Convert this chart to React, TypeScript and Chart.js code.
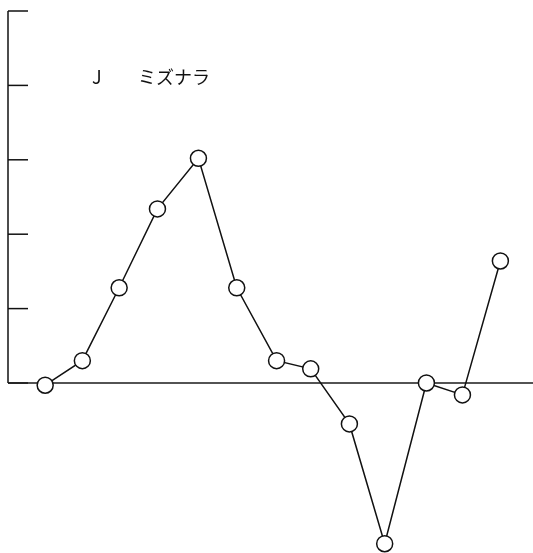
import React, { useEffect, useRef } from "react";
import { Chart, registerables } from "chart.js";

Chart.register(...registerables);

const xPositions = [0, 0.98, 1.95, 2.96, 4.04, 5.05, 6.1, 7.0, 8.02, 8.95, 10.05, 11.0, 12.0];
const values = [-0.03, 0.3, 1.28, 2.34, 3.02, 1.28, 0.3, 0.19, -0.55, -2.16, 0.0, -0.16, 1.64];
const yTicks = [0, 1, 2, 3, 4, 5];
const labelCode = "J";
const labelName = "ミズナラ";

const axisPlugin = {
  id: "scanAxis",
  beforeDatasetsDraw(chart: any) {
    const { ctx, chartArea, scales } = chart;
    const y = scales.y;
    const left = chartArea.left;
    ctx.save();
    ctx.strokeStyle = "#111";
    ctx.lineWidth = 1.5;
    ctx.beginPath();
    ctx.moveTo(left, y.getPixelForValue(yTicks[0]));
    ctx.lineTo(left, y.getPixelForValue(yTicks[yTicks.length - 1]));
    ctx.stroke();
    yTicks.forEach((t) => {
      const py = y.getPixelForValue(t);
      ctx.beginPath();
      ctx.moveTo(left, py);
      ctx.lineTo(left + 20, py);
      ctx.stroke();
    });
    ctx.lineWidth = 1.5;
    ctx.strokeStyle = "#1a1a1a";
    const zy = y.getPixelForValue(0);
    ctx.beginPath();
    ctx.moveTo(left, zy);
    ctx.lineTo(chartArea.right, zy);
    ctx.stroke();
    ctx.fillStyle = "#111";
    ctx.font = "18px 'Noto Sans CJK JP', 'Noto Sans', sans-serif";
    ctx.textBaseline = "middle";
    const ly = y.getPixelForValue(4.11);
    ctx.fillText(labelCode, left + 84, ly);
    ctx.fillText(labelName, left + 130, ly);
    ctx.restore();
  },
};

export default function App() {
  const ref = useRef<HTMLCanvasElement>(null);
  useEffect(() => {
    const chart = new Chart(ref.current!, {
      type: "line",
      data: {
        datasets: [
          {
            data: xPositions.map((x, i) => ({ x, y: values[i] })),
            borderColor: "#111",
            borderWidth: 1.5,
            pointRadius: 8,
            pointBorderWidth: 1.5,
            pointBackgroundColor: "#fff",
            pointBorderColor: "#111",
            tension: 0,
            clip: false,
          },
        ],
      },
      options: {
        animation: false,
        responsive: false,
        devicePixelRatio: 1,
        layout: { autoPadding: false, padding: { left: 8, top: 11, right: 0, bottom: 0 } },
        plugins: { legend: { display: false }, tooltip: { enabled: false } },
        scales: {
          x: { type: "linear", min: -0.98, max: 12.86, display: false },
          y: { min: -2.285, max: 5, display: false },
        },
      },
      plugins: [axisPlugin],
    });
    return () => chart.destroy();
  }, []);
  return (
    <div style={{ position: "fixed", left: 0, top: 0, width: 533, height: 553, background: "#fff" }}>
      <canvas ref={ref} width={533} height={553} style={{ display: "block", width: 533, height: 553 }} />
    </div>
  );
}
